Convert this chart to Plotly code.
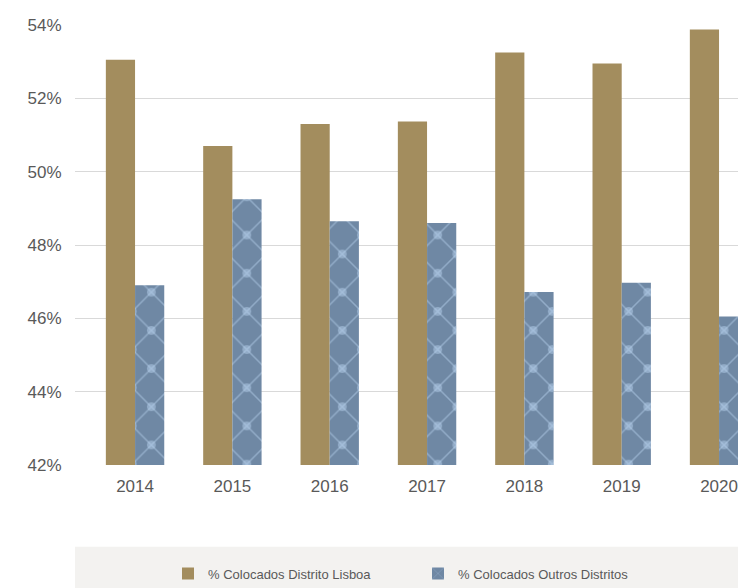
import math
import plotly.graph_objects as go

years = ["2014", "2015", "2016", "2017", "2018", "2019", "2020"]
lisboa = [53.05, 50.7, 51.3, 51.37, 53.25, 52.95, 53.88]
outros = [46.9, 49.25, 48.65, 48.6, 46.72, 46.97, 46.05]
y_ticks = [42, 44, 46, 48, 50, 52, 54]
y_tick_labels = ["42%", "44%", "46%", "48%", "50%", "52%", "54%"]

FONT = "Liberation Sans, Arial, sans-serif"
GOLD = "#a38d5e"
BLUE = "#6f88a4"
LIGHT = "#b6cfeb"
TXT = "#595959"

# page body has an 8px margin: figure coordinates = screen - 8
W, H = 746, 588
L, T = 67, 15
plot_right, plot_bottom = 738, 457
R, B = W - plot_right, H - plot_bottom
pw = plot_right - L
ph = plot_bottom - T

x_range = [-0.617, 6.277]
y_range = [42, 54]

# diamond lattice pattern: "x" tile is size*sqrt(2) px
x_size = 27
tile = x_size * math.sqrt(2)
shift = tile / 2
ppu_x = pw / (x_range[1] - x_range[0])
ppu_y = ph / (y_range[1] - y_range[0])

BAR_W = 0.3

fig = go.Figure()
fig.add_trace(go.Bar(
    x=years, y=lisboa, name="% Colocados Distrito Lisboa",
    width=BAR_W, offset=-BAR_W,
    marker=dict(color=GOLD, line=dict(width=0)),
))
fig.add_trace(go.Bar(
    x=years, y=outros, name="% Colocados Outros Distritos",
    width=BAR_W, offset=0,
    marker=dict(color=BLUE, line=dict(width=0),
                pattern=dict(shape="x", fgcolor=LIGHT, bgcolor=BLUE,
                             size=x_size, solidity=0.11, fillmode="overlay")),
))
# dots at the lattice crossings (centres of tiles)
fig.add_trace(go.Bar(
    x=years, y=outros, width=BAR_W, offset=0, showlegend=False, hoverinfo="skip",
    marker=dict(color="rgba(0,0,0,0)", line=dict(width=0),
                pattern=dict(shape=".", fgcolor=LIGHT, size=tile,
                             solidity=0.042, fillmode="overlay")),
))
# dots at the lattice crossings (corners of tiles) via a half-tile shifted subplot
fig.add_trace(go.Bar(
    x=years, y=outros, width=BAR_W, offset=0, showlegend=False, hoverinfo="skip",
    xaxis="x2", yaxis="y2",
    marker=dict(color="rgba(0,0,0,0)", line=dict(width=0),
                pattern=dict(shape=".", fgcolor=LIGHT, size=tile,
                             solidity=0.042, fillmode="overlay")),
))

fig.update_layout(
    width=W, height=H,
    margin=dict(l=L, r=R, t=T, b=B, pad=0),
    paper_bgcolor="white", plot_bgcolor="rgba(0,0,0,0)",
    barmode="overlay",
    font=dict(family=FONT, color=TXT, size=17),
    xaxis=dict(type="category", range=x_range, showgrid=False,
               showline=False, zeroline=False, ticks="outside", ticklen=6,
               tickcolor="rgba(0,0,0,0)", tickfont=dict(size=17, color=TXT)),
    yaxis=dict(range=y_range, tickvals=y_ticks, ticktext=y_tick_labels,
               showgrid=True, gridcolor="#d9d9d9", gridwidth=1, zeroline=False,
               showline=False, ticks="outside", ticklen=9,
               tickcolor="rgba(0,0,0,0)", tickfont=dict(size=17, color=TXT)),
    xaxis2=dict(type="category", anchor="y2",
                domain=[shift / pw, 1],
                range=[x_range[0] + shift / ppu_x, x_range[1]],
                showgrid=False, showline=False, zeroline=False,
                showticklabels=False, ticks=""),
    yaxis2=dict(anchor="x2", domain=[0, 1 - shift / ph],
                range=[y_range[0], y_range[1] - shift / ppu_y],
                showgrid=False, showline=False, zeroline=False,
                showticklabels=False, ticks=""),
    legend=dict(orientation="h", x=(160 - L) / pw, xanchor="left",
                y=(plot_bottom - 566) / ph, yanchor="middle",
                bgcolor="rgba(0,0,0,0)", font=dict(size=13, color=TXT),
                entrywidth=205, traceorder="normal"),
    shapes=[dict(type="rect", xref="paper", yref="paper", x0=0, x1=1.02,
                 y0=(plot_bottom - H) / ph, y1=(plot_bottom - 539) / ph,
                 fillcolor="#f3f2f0", line=dict(width=0), layer="below")],
    showlegend=True,
)

fig.write_html("out.html")
